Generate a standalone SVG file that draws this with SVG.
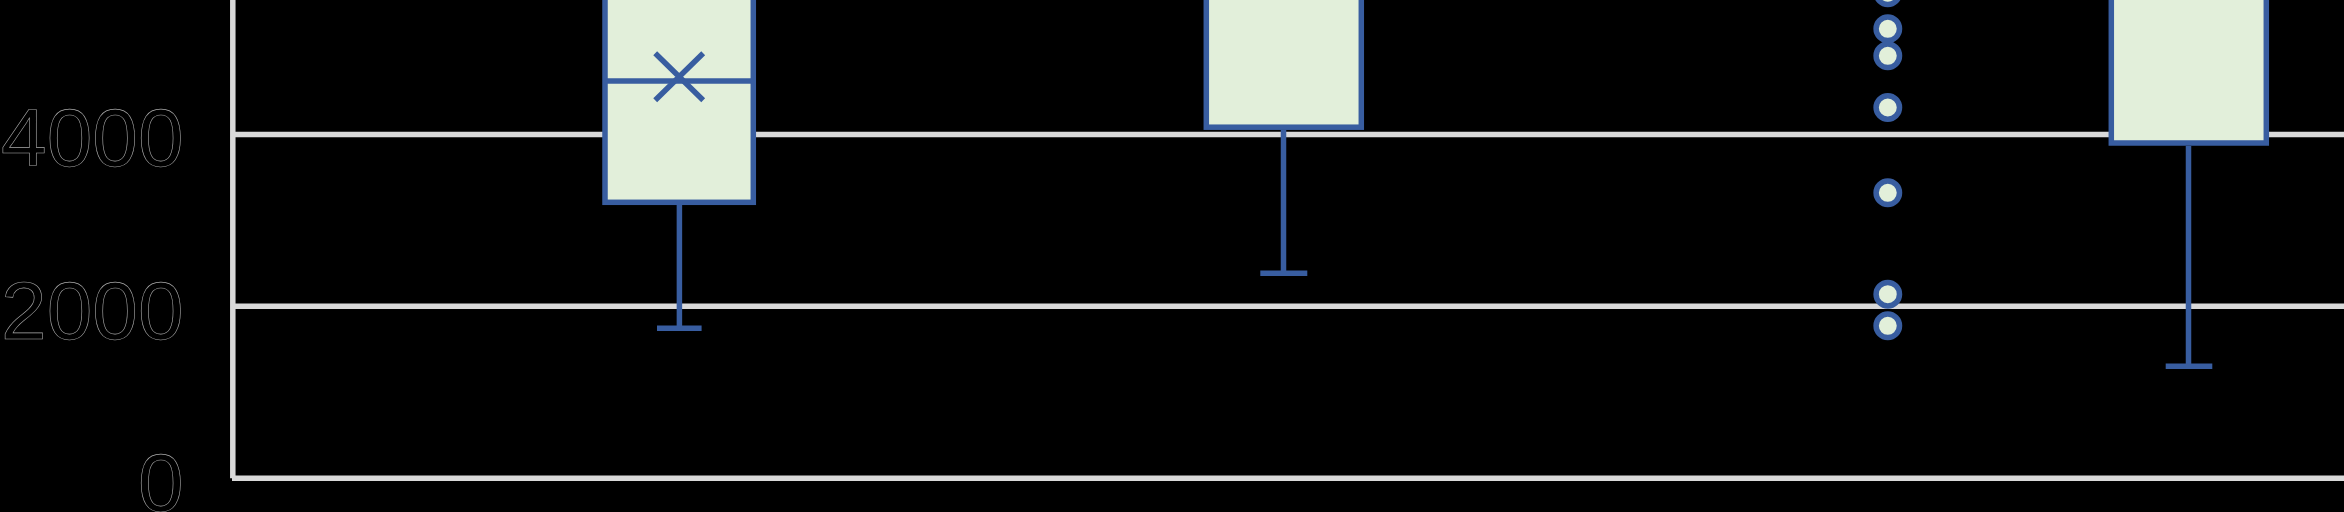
<svg xmlns="http://www.w3.org/2000/svg" width="2344" height="512" viewBox="0 0 2344 512">
  <style>
    .grid { stroke: #D9D9D9; stroke-width: 5.5; fill: none; }
    .box { fill: #E2EFDA; stroke: #385DA0; stroke-width: 5.5; }
    .ln { stroke: #385DA0; stroke-width: 5.5; fill: none; stroke-linecap: butt; }
    .pt { fill: #E2EFDA; stroke: #385DA0; stroke-width: 5.5; }
    .lbl { font-family: "Liberation Sans", Arial, sans-serif; font-size: 82px; fill: #000; stroke: #A8A8A8; stroke-width: 0.6; text-anchor: end; }
  </style>
  <rect x="0" y="0" width="2344" height="512" fill="#000"/>

  <g id="gridlines">
    <line class="grid" x1="235" y1="134.5" x2="2344" y2="134.5"/>
    <line class="grid" x1="235" y1="306.3" x2="2344" y2="306.3"/>
  </g>

  <g id="axes">
    <line class="grid" x1="232.8" y1="0" x2="232.8" y2="478.3"/>
    <line class="grid" x1="232" y1="478.3" x2="2344" y2="478.3"/>
  </g>

  <g id="axis-labels">
    <text class="lbl" x="183.5" y="165.5">4000</text>
    <text class="lbl" x="183.5" y="339">2000</text>
    <text class="lbl" x="183.5" y="510.5">0</text>
  </g>

  <g id="connectors">
    <line class="ln" x1="679.4" y1="205" x2="679.4" y2="328.3"/>
    <line class="ln" x1="657" y1="328.3" x2="701.6" y2="328.3"/>
    <line class="ln" x1="1283.5" y1="130" x2="1283.5" y2="273.3"/>
    <line class="ln" x1="1260.3" y1="273.3" x2="1307.3" y2="273.3"/>
    <line class="ln" x1="2188.5" y1="146" x2="2188.5" y2="366.3"/>
    <line class="ln" x1="2165.7" y1="366.3" x2="2212.3" y2="366.3"/>
  </g>

  <g id="box1">
    <rect class="box" x="605" y="-20" width="148.3" height="222.3"/>
    <line class="ln" x1="605" y1="81" x2="753.3" y2="81"/>
    <path class="ln" d="M655.2 53.2 L703.2 100.2 M703.2 53.2 L655.2 100.2"/>
  </g>

  <g id="box2">
    <rect class="box" x="1206.3" y="-20" width="155" height="147.2"/>
  </g>

  <g id="outliers3">
    <circle class="pt" cx="1887.8" cy="-7.2" r="11.7"/>
    <circle class="pt" cx="1887.8" cy="28.8" r="11.7"/>
    <circle class="pt" cx="1887.8" cy="55.8" r="11.7"/>
    <circle class="pt" cx="1887.8" cy="107.5" r="11.7"/>
    <circle class="pt" cx="1887.8" cy="192.8" r="11.7"/>
    <circle class="pt" cx="1887.8" cy="294.2" r="11.7"/>
    <circle class="pt" cx="1887.8" cy="325.8" r="11.7"/>
  </g>

  <g id="box4">
    <rect class="box" x="2111.3" y="-20" width="155" height="163"/>
  </g>
</svg>
